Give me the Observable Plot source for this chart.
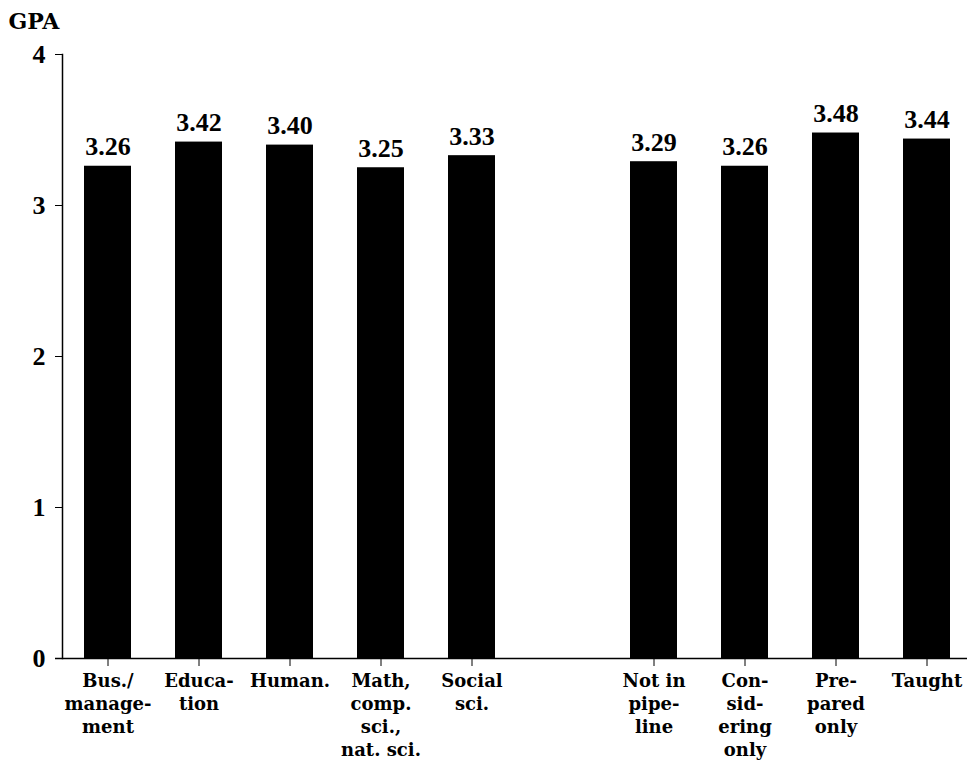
<!DOCTYPE html>
<html>
<head>
<meta charset="utf-8">
<script src="https://cdn.jsdelivr.net/npm/d3@7"></script>
<script src="https://cdn.jsdelivr.net/npm/@observablehq/plot@0.6"></script>
<style>
  html, body { margin: 0; padding: 0; background: #fff; overflow: hidden; }
  svg { font-family: "Liberation Serif", "DejaVu Serif", serif; }
</style>
</head>
<body>
<div id="chart"></div>
<script>
const categories = [
  "Bus./\nmanage-\nment",
  "Educa-\ntion",
  "Human.",
  "Math,\ncomp.\nsci.,\nnat. sci.",
  "Social\nsci.",
  "Not in\npipe-\nline",
  "Con-\nsid-\nering\nonly",
  "Pre-\npared\nonly",
  "Taught"
];
const gpa = [3.26, 3.42, 3.40, 3.25, 3.33, 3.29, 3.26, 3.48, 3.44];
const valueLabels = ["3.26", "3.42", "3.40", "3.25", "3.33", "3.29", "3.26", "3.48", "3.44"];
const yTicks = [0, 1, 2, 3, 4];
const gapSlot = " ";

const data = categories.map((c, i) => ({cat: c, gpa: gpa[i], label: valueLabels[i]}));
const domain = [...categories.slice(0, 5), gapSlot, ...categories.slice(5)];

const chart = Plot.plot({
  width: 967,
  height: 768,
  marginLeft: 62,
  marginRight: -5,
  marginTop: 54,
  marginBottom: 110,
  style: {fontFamily: "Liberation Serif, serif", fontWeight: "bold", color: "#000", background: "#fff", overflow: "hidden"},
  x: {domain, paddingInner: 0.48, paddingOuter: 0.234, label: null},
  y: {domain: [0, 4], label: null},
  marks: [
    Plot.barY(data, {x: "cat", y: "gpa", fill: "#000"}),
    Plot.text(data, {x: "cat", y: "gpa", text: "label", dy: -11, lineAnchor: "bottom", fontSize: 26, fontWeight: "bold", fill: "#000"}),
    Plot.ruleY([0], {stroke: "#000", strokeWidth: 1.5, insetLeft: -7}),
    Plot.frame({anchor: "left", stroke: "#000", strokeWidth: 1.5}),
    Plot.axisY({ticks: yTicks, tickSize: 7, tickPadding: 10, fontSize: 26, fontWeight: "bold", label: null, tickFormat: d3.format("d")}),
    Plot.axisX({ticks: categories, tickSize: 8, tickPadding: 4, fontSize: 18, fontFamily: "DejaVu Serif", fontWeight: "bold", lineHeight: 1.28, label: null}),
    Plot.text(["GPA"], {frameAnchor: "top-left", dx: -54, dy: -41, textAnchor: "start", fontSize: 22, fontFamily: "DejaVu Serif", fontWeight: "bold", fill: "#000"})
  ]
});
document.getElementById("chart").append(chart);
</script>
</body>
</html>
